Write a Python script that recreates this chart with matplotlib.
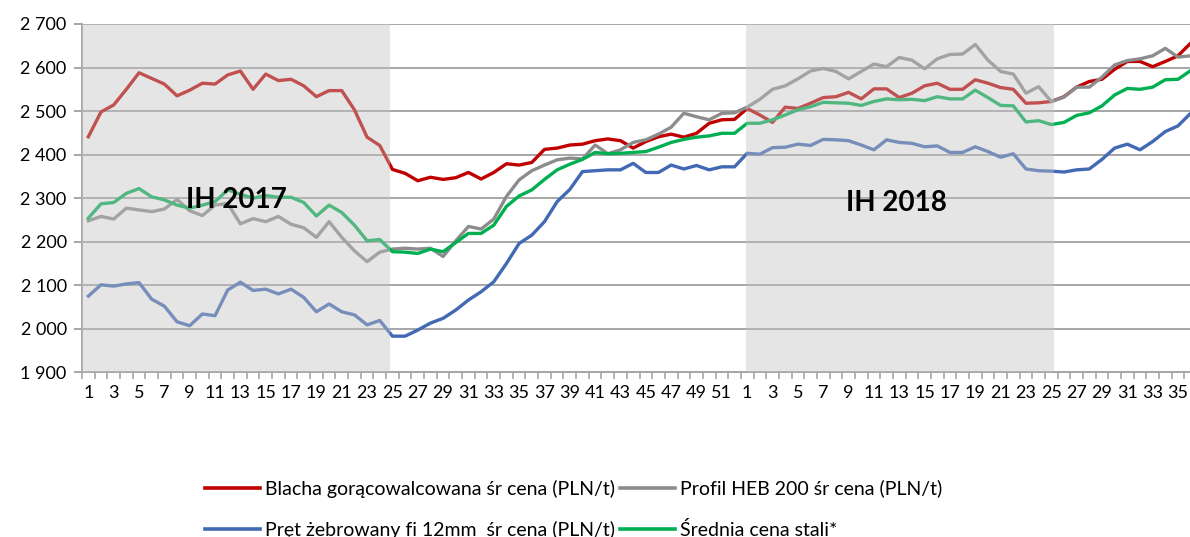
import matplotlib
matplotlib.use("Agg")
import matplotlib.pyplot as plt
from matplotlib.lines import Line2D

weeks_2017 = list(range(1, 53))
weeks_2018 = list(range(1, 37))
week_labels = [str(w) for w in weeks_2017] + [str(w) for w in weeks_2018]

blacha = [2441, 2498, 2514, 2550, 2588, 2575, 2562, 2535, 2548, 2564, 2562, 2583, 2592, 2550, 2585, 2570,
          2573, 2558, 2533, 2547, 2547, 2503, 2440, 2421, 2366,
          2357, 2340, 2348, 2343, 2347, 2359, 2344, 2359, 2379, 2376, 2382, 2412, 2415, 2422, 2424, 2432,
          2436, 2432, 2415, 2430, 2441, 2447, 2440, 2449, 2472, 2480, 2481,
          2506, 2491, 2474, 2509, 2506, 2518, 2531, 2533, 2543, 2528, 2551, 2551, 2531, 2541, 2558, 2564,
          2550, 2550, 2572, 2564, 2554, 2550, 2518, 2519, 2522, 2533, 2555, 2568, 2573, 2596, 2614, 2614,
          2602, 2614, 2627, 2656]
profil = [2248, 2258, 2252, 2277, 2273, 2269, 2275, 2297, 2271, 2260, 2284, 2288, 2241, 2253, 2246, 2258,
          2240, 2232, 2210, 2246, 2210, 2179, 2154, 2176, 2183,
          2185, 2183, 2185, 2166, 2202, 2235, 2229, 2252, 2304, 2342, 2363, 2376, 2388, 2392, 2390, 2422,
          2402, 2411, 2428, 2434, 2447, 2463, 2495, 2487, 2480, 2495, 2496,
          2509, 2527, 2550, 2558, 2574, 2592, 2598, 2591, 2574, 2591, 2608, 2602, 2623, 2617, 2597, 2620,
          2630, 2631, 2653, 2617, 2591, 2585, 2541, 2556, 2522, 2532, 2555, 2555, 2578, 2606, 2616, 2620,
          2627, 2644, 2624, 2627]
pret = [2075, 2101, 2098, 2103, 2106, 2068, 2052, 2016, 2007, 2034, 2030, 2089, 2107, 2088, 2091, 2080,
        2091, 2072, 2039, 2057, 2039, 2032, 2009, 2019, 1983,
        1983, 1997, 2013, 2024, 2043, 2066, 2085, 2108, 2150, 2196, 2215, 2246, 2292, 2320, 2361, 2363,
        2365, 2365, 2380, 2359, 2359, 2376, 2367, 2375, 2365, 2372, 2372,
        2403, 2401, 2416, 2417, 2424, 2421, 2435, 2434, 2432, 2422, 2411, 2434, 2428, 2426, 2418, 2420,
        2405, 2405, 2418, 2407, 2394, 2402, 2367, 2363, 2362, 2360, 2365, 2367, 2389, 2415, 2424, 2411,
        2430, 2453, 2466, 2495]
srednia = [2254, 2287, 2290, 2311, 2322, 2303, 2296, 2284, 2277, 2284, 2292, 2319, 2309, 2300, 2306, 2302,
           2302, 2290, 2259, 2284, 2267, 2238, 2202, 2205, 2177,
           2176, 2173, 2183, 2177, 2198, 2219, 2219, 2238, 2281, 2305, 2319, 2343, 2365, 2378, 2389, 2405,
           2402, 2403, 2405, 2407, 2417, 2428, 2435, 2440, 2443, 2449, 2449,
           2472, 2472, 2480, 2491, 2503, 2510, 2520, 2519, 2518, 2513, 2522, 2528, 2526, 2527, 2524, 2533,
           2528, 2528, 2548, 2531, 2513, 2512, 2475, 2478, 2469, 2474, 2490, 2496, 2512, 2537, 2552, 2550,
           2555, 2572, 2573, 2593]

series_names = ["Blacha gorącowalcowana śr cena (PLN/t)", "Profil HEB 200 śr cena (PLN/t)",
                "Pręt żebrowany fi 12mm  śr cena (PLN/t)", "Średnia cena stali*"]
period_labels = ["IH 2017", "IH 2018"]
y_ticks = [1900, 2000, 2100, 2200, 2300, 2400, 2500, 2600, 2700]

FONT = "Lato"
plt.rcParams["font.family"] = [FONT, "DejaVu Sans"]

W, H = 1190, 537
fig = plt.figure(figsize=(W / 100, H / 100), dpi=100)
left_px, right_px, top_px, bot_px = 82, 1197, 24, 372.3
ax = fig.add_axes([left_px / W, 1 - bot_px / H, (right_px - left_px) / W, (bot_px - top_px) / H])

x = list(range(len(week_labels)))
colors = {"red": "#C00000", "gray": "#8C8C8C", "blue": "#4169B4", "green": "#00B050"}
lw = 2.4
ax.plot(x, blacha, color=colors["red"], lw=lw, zorder=3, solid_joinstyle="round")
ax.plot(x, profil, color=colors["gray"], lw=lw, zorder=3, solid_joinstyle="round")
ax.plot(x, pret, color=colors["blue"], lw=lw, zorder=3, solid_joinstyle="round")
ax.plot(x, srednia, color=colors["green"], lw=lw, zorder=3, solid_joinstyle="round")

# shaded half-year bands (drawn on top, semi-transparent)
ax.axvspan(-0.5, 23.8, color="#C3C3C3", alpha=0.42, lw=0, zorder=4)
ax.axvspan(51.9, 76.2, color="#C3C3C3", alpha=0.42, lw=0, zorder=4)

ax.text(11.7, 2296, period_labels[0], ha="center", va="center", fontsize=20, fontweight="bold", zorder=5)
ax.text(63.8, 2289, period_labels[1], ha="center", va="center", fontsize=20, fontweight="bold", zorder=5)

ax.set_xlim(-0.5, len(week_labels) - 0.5)
ax.set_ylim(1900, 2700)
ax.set_yticks(y_ticks)
ax.set_yticklabels([f"{v // 1000} {v % 1000:03d}" for v in y_ticks], fontsize=13)
ax.yaxis.grid(True, color="#A6A6A6", lw=1.4, zorder=1)
ax.tick_params(axis="y", length=6, width=1.4, color="#A6A6A6", pad=5)

ax.set_xticks(x[::2])
ax.set_xticklabels(week_labels[::2], fontsize=13)
ax.set_xticks([i - 0.5 for i in range(len(week_labels) + 1)], minor=True)
ax.tick_params(axis="x", which="major", length=0, pad=9)
ax.tick_params(axis="x", which="minor", length=5, width=1.2, color="#A6A6A6")

for s in ["top", "right"]:
    ax.spines[s].set_visible(False)
ax.spines["left"].set_color("#A6A6A6")
ax.spines["left"].set_linewidth(1.4)
ax.spines["bottom"].set_color("#A6A6A6")
ax.spines["bottom"].set_linewidth(1.4)
ax.set_axisbelow(True)

handles = [Line2D([], [], color=colors["red"], lw=2.6),
           Line2D([], [], color=colors["blue"], lw=2.6),
           Line2D([], [], color=colors["gray"], lw=2.6),
           Line2D([], [], color=colors["green"], lw=2.6)]
labels = [series_names[0], series_names[2], series_names[1], series_names[3]]
fig.legend(handles, labels, ncol=2, loc="upper left", bbox_to_anchor=(205 / W, 1 - 479.5 / H),
           frameon=False, fontsize=14, handlelength=2.83, handletextpad=0.26,
           columnspacing=0.26, labelspacing=1.19, borderaxespad=0, borderpad=0)

fig.savefig("out.png", dpi=100)
